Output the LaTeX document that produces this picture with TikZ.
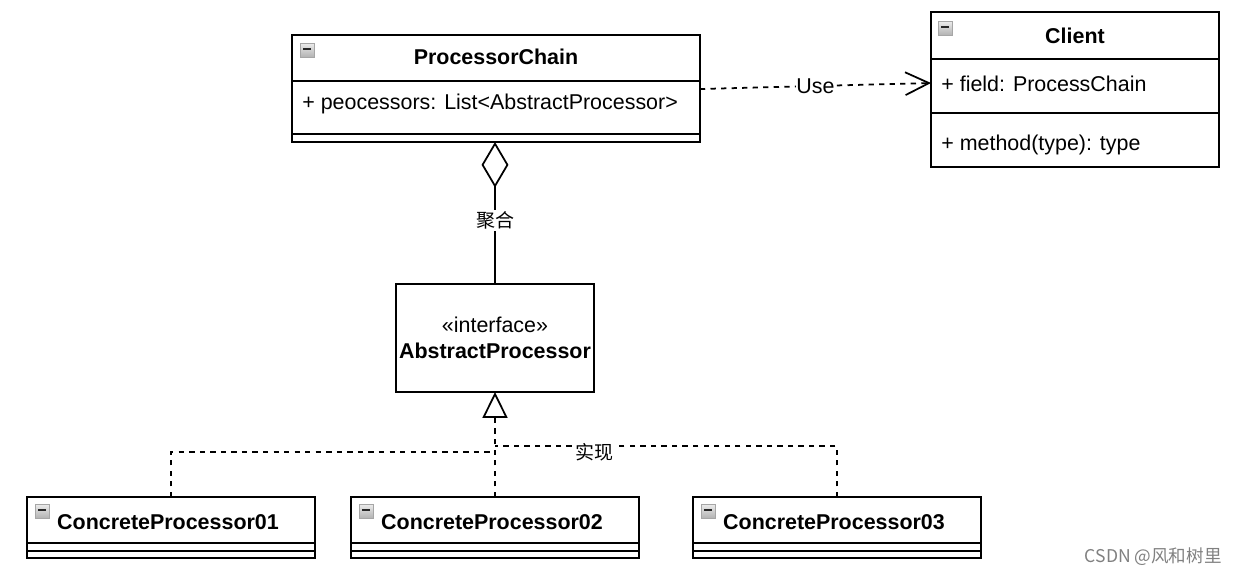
\documentclass[tikz,border=0pt]{standalone}
\usepackage{fontspec}
\setmainfont{Liberation Sans}
\newfontfamily\cjk{Noto Sans CJK SC}
\usetikzlibrary{arrows.meta}

\begin{document}
\begin{tikzpicture}[x=0.02cm, y=-0.02cm,
        box/.style={draw, line width=1pt, inner sep=0pt, outer sep=0pt},
        txt/.style={inner sep=0pt, font=\fontsize{12.2}{14.6}\selectfont},
        bold/.style={inner sep=0pt, font=\fontsize{12.2}{14.6}\selectfont\bfseries},
        lbl/.style={fill=white, inner sep=1pt},
        dashline/.style={line width=1pt, dash pattern=on 3pt off 3pt},
        dep/.style={dashline, -{Straight Barb[length=13.5pt, width=13pt]}},
        realize/.style={dashline, -{Triangle[open, length=14.7pt, width=14.2pt]}},
        agg/.style={line width=1pt, {Diamond[open, length=26pt, width=15.3pt]}-}]
            \useasboundingbox (0,0) rectangle (1238,576);

            % ProcessorChain
            \node[box, minimum width=8.16cm, minimum height=2.14cm] (pc) at (496,88.5) {};
            \draw[line width=1pt] (pc.west |- 0,81) -- (pc.east |- 0,81);
            \draw[line width=1pt] (pc.west |- 0,134) -- (pc.east |- 0,134);
            \node[bold] at (496,57) {ProcessorChain};
            \node[txt, anchor=west] at (302,104) {+ peocessors: List<AbstractProcessor>};

            % Client
            \node[box, minimum width=5.76cm, minimum height=3.1cm] (cl) at (1075,89.5) {};
            \draw[line width=1pt] (cl.west |- 0,59) -- (cl.east |- 0,59);
            \draw[line width=1pt] (cl.west |- 0,113) -- (cl.east |- 0,113);
            \node[bold] at (1075,36) {Client};
            \node[txt, anchor=west] at (941,84) {+ field: ProcessChain};
            \node[txt, anchor=west] at (941,145) {+ method(type): type};

            % Interface
            \node[box, minimum width=3.96cm, minimum height=2.16cm] (ap) at (495,338) {};
            \node[txt] at (495,325) {«interface»};
            \node[bold] at (495,351) {AbstractProcessor};

            % Implementierungen
            \foreach \i/\x in {01/171, 02/495, 03/837} {
                \node[box, minimum width=5.76cm, minimum height=1.22cm] (cp\i) at (\x,527.5) {};
                \draw[line width=1pt] (cp\i.west |- 0,543) -- (cp\i.east |- 0,543);
                \draw[line width=1pt] (cp\i.west |- 0,551) -- (cp\i.east |- 0,551);
                \node[bold] at (\x-3,522) {ConcreteProcessor\i};
            }

            % Symbole oben links
            \foreach \x/\y in {300/43, 938/21, 35/504, 359/504, 701/504} {
                \shade[top color=gray!15, bottom color=gray!60] (\x,\y) rectangle ++(14,14);
                \draw[gray!70, line width=0.5pt] (\x,\y) rectangle ++(14,14);
                \draw[black!85, line width=1.3pt] (\x+3,\y+6) -- ++(8,0);
            }

            % Beziehungen
            \draw[dep] (pc.east |- 0,89) -- node[lbl, txt] {Use} (cl.west |- 0,83);
            \draw[agg] (ap.north |- pc.south) -- node[lbl, pos=0.55, font=\cjk\fontsize{10.8}{13}\selectfont] {聚合} (ap.north);

            % Realisierung (gemeinsame Spitze)
            \coordinate (j1) at (495,452);
            \coordinate (j3) at (495,446);
            \draw[dashline] (cp01.north) |- (j1);
            \draw[dashline] (cp03.north) |- node[lbl, pos=0.855, yshift=-0.12cm, font=\cjk\fontsize{10.8}{13}\selectfont] {实现} (j3);
            \draw[realize] (cp02.north) -- (ap.south);

            % Wasserzeichen
            \node[anchor=east, text=gray, inner sep=0pt, font=\cjk\fontsize{10}{12}\selectfont] at (1222,557) {CSDN @风和树里};
        \end{tikzpicture}
\end{document}
